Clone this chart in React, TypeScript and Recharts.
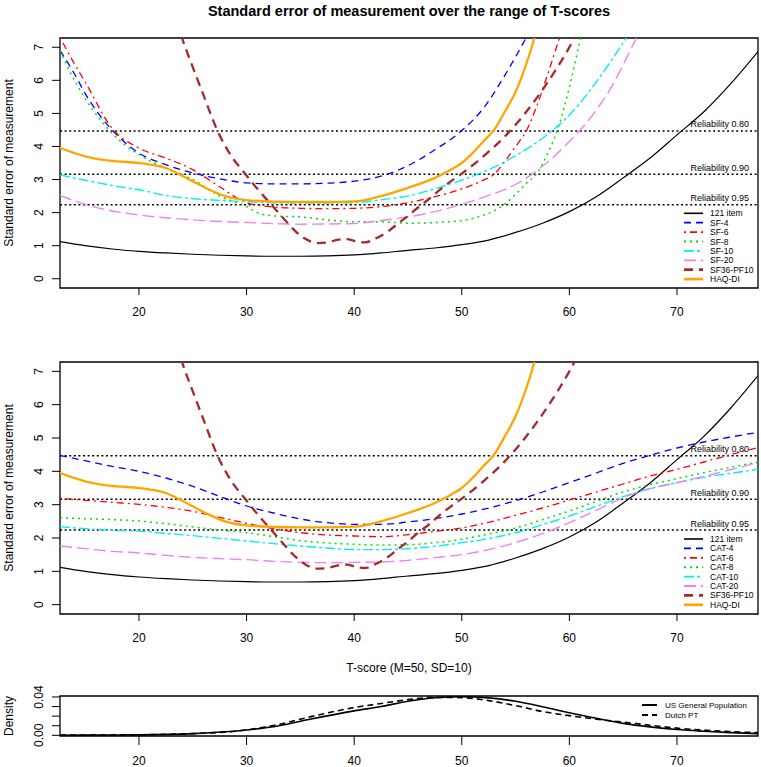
import React from 'react';
import { LineChart, Line, XAxis, YAxis, ReferenceLine, ReferenceArea } from 'recharts';

const FONT = '"Liberation Sans", Arial, Helvetica, sans-serif';

// axes
const tTicks = [20, 30, 40, 50, 60, 70];
const seTicks = [0, 1, 2, 3, 4, 5, 6, 7];
const densityTicks = [0, 0.01, 0.02, 0.03, 0.04];
const densityTickLabels = ['0.00', '', '', '', '0.04'];
const tDomain = [12.66, 77.53];
const seDomain = [-0.28, 7.28];
const densityDomain = [-0.0007, 0.041];

// reliability levels (SE = 10 * sqrt(1 - r))
const reliabilityLabels = ['Reliability 0.80', 'Reliability 0.90', 'Reliability 0.95'];
const reliabilitySE = [4.47, 3.16, 2.24];

// common T-score grid for the full-range curves
const tGrid = [12.66, 15, 17.5, 20, 22.5, 25, 27.5, 30, 32.5, 35, 37.5, 40, 42.5, 45, 47.5, 50, 52.5, 55, 57.5, 60, 62.5, 65, 67.5, 70, 72.5, 75, 77.53];
const item121 = [1.12, 1.0, 0.9, 0.83, 0.78, 0.74, 0.71, 0.69, 0.68, 0.68, 0.69, 0.72, 0.78, 0.86, 0.93, 1.03, 1.17, 1.4, 1.68, 2.03, 2.48, 3.05, 3.65, 4.35, 5.05, 5.9, 6.87];

// short forms (top panel)
const sf4T = [12.66, 14, 15, 16, 17.5, 20, 22.5, 25, 27.5, 30, 32.5, 35, 37.5, 40, 42.5, 45, 47.5, 50, 52, 54, 55.5, 56.5];
const sf4SE = [6.9, 6.2, 5.6, 5.1, 4.5, 3.8, 3.45, 3.2, 3.02, 2.9, 2.87, 2.87, 2.89, 2.95, 3.1, 3.42, 3.9, 4.48, 5.15, 6.15, 7.0, 7.6];
const sf6T = [12.66, 14, 15, 17.5, 20, 22.5, 25, 27.5, 30, 32.5, 35, 37.5, 40, 42.5, 45, 47.5, 50, 52, 53, 54, 55, 56, 57, 58, 59, 60];
const sf6SE = [7.3, 6.5, 5.95, 4.55, 3.95, 3.65, 3.3, 2.78, 2.3, 2.17, 2.13, 2.12, 2.13, 2.18, 2.3, 2.48, 2.72, 2.98, 3.16, 3.55, 4.0, 4.47, 5.25, 6.2, 7.2, 8.2];
const sf8T = [12.66, 14, 15, 17.5, 20, 22.5, 25, 27.5, 30, 31, 32.5, 35, 37.5, 40, 42.5, 45, 47.5, 50, 52, 53, 54, 55, 56, 57, 58, 59, 60, 61, 62];
const sf8SE = [6.9, 6.0, 5.45, 4.4, 3.75, 3.34, 3.0, 2.5, 2.18, 2.0, 1.9, 1.87, 1.78, 1.72, 1.72, 1.68, 1.7, 1.76, 1.92, 2.05, 2.26, 2.55, 2.88, 3.2, 3.8, 4.6, 5.8, 7.2, 8.5];
const sf10T = [12.66, 15, 17.5, 20, 22.5, 25, 27.5, 30, 35, 40, 42.5, 45, 47.5, 50, 52.5, 55, 57.5, 60, 62.5, 64, 65.5, 66.5];
const sf10SE = [3.14, 2.98, 2.82, 2.69, 2.52, 2.42, 2.37, 2.33, 2.29, 2.3, 2.39, 2.5, 2.72, 2.98, 3.3, 3.72, 4.25, 4.95, 5.95, 6.65, 7.4, 8.0];
const sf20T = [12.66, 15, 17.5, 20, 25, 30, 35, 40, 42.5, 45, 47.5, 50, 52.5, 55, 57.5, 60, 62.5, 64, 65.5, 67];
const sf20SE = [2.52, 2.25, 2.05, 1.93, 1.78, 1.7, 1.65, 1.67, 1.76, 1.87, 2.03, 2.25, 2.52, 2.85, 3.4, 4.15, 5.1, 5.85, 6.8, 7.8];

// legacy instruments (both panels)
const pf10T = [23.5, 24, 25, 26, 27.3, 28.5, 29.9, 31, 32.3, 33.5, 34.5, 35.5, 36.5, 37.5, 38.5, 39.3, 40.2, 41, 42, 43, 44, 45, 46, 47, 48, 49, 50, 52, 54, 56, 58, 60, 61];
const pf10SE = [7.8, 7.28, 6.4, 5.55, 4.47, 3.75, 3.16, 2.72, 2.24, 1.8, 1.45, 1.2, 1.08, 1.1, 1.18, 1.2, 1.13, 1.1, 1.22, 1.4, 1.65, 1.9, 2.17, 2.42, 2.7, 2.95, 3.18, 3.7, 4.3, 5.05, 5.95, 7.0, 7.6];
const haqT = [12.66, 14, 15, 16.5, 18, 20, 21.5, 22.5, 23.5, 25, 26.5, 28, 29, 30, 32.5, 35, 37.5, 40, 41, 42.5, 45, 47.5, 49, 50, 51, 52, 53, 54, 55, 56, 56.5, 57];
const haqSE = [3.95, 3.8, 3.7, 3.6, 3.55, 3.5, 3.43, 3.35, 3.2, 2.95, 2.7, 2.5, 2.42, 2.38, 2.33, 2.32, 2.32, 2.34, 2.38, 2.5, 2.75, 3.05, 3.3, 3.5, 3.8, 4.15, 4.5, 5.05, 5.65, 6.5, 7.0, 7.6];

// CATs (middle panel), on tGrid
const cat4 = [4.48, 4.32, 4.15, 4.0, 3.8, 3.55, 3.25, 2.96, 2.75, 2.57, 2.46, 2.41, 2.41, 2.48, 2.58, 2.72, 2.9, 3.12, 3.38, 3.66, 3.95, 4.24, 4.48, 4.7, 4.88, 5.03, 5.17];
const cat6 = [3.19, 3.13, 3.07, 3.01, 2.92, 2.8, 2.62, 2.44, 2.28, 2.16, 2.09, 2.06, 2.04, 2.1, 2.2, 2.3, 2.47, 2.68, 2.9, 3.14, 3.38, 3.62, 3.86, 4.06, 4.28, 4.5, 4.71];
const cat8 = [2.61, 2.58, 2.55, 2.51, 2.43, 2.33, 2.24, 2.16, 2.04, 1.92, 1.85, 1.81, 1.79, 1.8, 1.86, 1.96, 2.12, 2.3, 2.55, 2.81, 3.1, 3.38, 3.6, 3.78, 3.96, 4.12, 4.28];
const cat10 = [2.34, 2.28, 2.23, 2.21, 2.14, 2.07, 1.99, 1.91, 1.83, 1.76, 1.7, 1.65, 1.65, 1.68, 1.75, 1.86, 1.98, 2.16, 2.4, 2.66, 2.95, 3.24, 3.48, 3.66, 3.82, 3.94, 4.06];
const cat20 = [1.76, 1.68, 1.6, 1.55, 1.48, 1.42, 1.38, 1.35, 1.3, 1.27, 1.26, 1.27, 1.28, 1.33, 1.41, 1.5, 1.65, 1.86, 2.13, 2.46, 2.83, 3.21, 3.48, 3.66, 3.85, 4.05, 4.26];

// population densities (bottom panel)
const densT = [12.66, 15, 20, 25, 30, 33, 36, 40, 42.5, 45, 47.5, 50, 52.5, 55, 57.5, 60, 62.5, 65, 67.5, 70, 72.5, 75, 77.53];
const densUS = [0.0001, 0.0002, 0.0005, 0.0018, 0.0055, 0.01, 0.017, 0.0255, 0.03, 0.0355, 0.0392, 0.0402, 0.039, 0.0355, 0.0298, 0.0235, 0.0178, 0.0125, 0.0088, 0.006, 0.0042, 0.0028, 0.0018];
const densDutch = [0.0002, 0.0003, 0.0006, 0.0018, 0.0056, 0.0115, 0.0195, 0.029, 0.0332, 0.0372, 0.0396, 0.0393, 0.0362, 0.031, 0.0248, 0.0205, 0.0168, 0.0138, 0.0105, 0.0075, 0.0055, 0.0038, 0.0028];

type Series = { name: string; color: string; width: number; dash?: string; x: number[]; y: number[] };

const pts = (x: number[], y: number[]) => x.map((v, i) => ({ x: v, y: y[i] }));

const itemSeries: Series = { name: '121 item', color: '#000000', width: 1.2, x: tGrid, y: item121 };
const pf10Series: Series = { name: 'SF36-PF10', color: '#A52A2A', width: 2.3, dash: '9 6', x: pf10T, y: pf10SE };
const haqSeries: Series = { name: 'HAQ-DI', color: '#FFA500', width: 2.3, x: haqT, y: haqSE };

const topSeries: Series[] = [
  itemSeries,
  { name: 'SF-4', color: '#0000FF', width: 1.3, dash: '7 5', x: sf4T, y: sf4SE },
  { name: 'SF-6', color: '#FF0000', width: 1.3, dash: '2 4 7 4', x: sf6T, y: sf6SE },
  { name: 'SF-8', color: '#00E000', width: 1.5, dash: '2 4', x: sf8T, y: sf8SE },
  { name: 'SF-10', color: '#00F0F0', width: 1.4, dash: '10 3 3 3', x: sf10T, y: sf10SE },
  { name: 'SF-20', color: '#EE82EE', width: 1.4, dash: '12 5', x: sf20T, y: sf20SE },
  pf10Series,
  haqSeries,
];

const midSeries: Series[] = [
  itemSeries,
  { name: 'CAT-4', color: '#0000FF', width: 1.3, dash: '7 5', x: tGrid, y: cat4 },
  { name: 'CAT-6', color: '#FF0000', width: 1.3, dash: '2 4 7 4', x: tGrid, y: cat6 },
  { name: 'CAT-8', color: '#00E000', width: 1.5, dash: '2 4', x: tGrid, y: cat8 },
  { name: 'CAT-10', color: '#00F0F0', width: 1.4, dash: '10 3 3 3', x: tGrid, y: cat10 },
  { name: 'CAT-20', color: '#EE82EE', width: 1.4, dash: '12 5', x: tGrid, y: cat20 },
  pf10Series,
  haqSeries,
];

const densSeries: Series[] = [
  { name: 'US General Population', color: '#000000', width: 1.6, x: densT, y: densUS },
  { name: 'Dutch PT', color: '#000000', width: 1.6, dash: '6 4', x: densT, y: densDutch },
];

function RotTick(props: any) {
  const { x, y, payload, labels, ticks } = props;
  const text = labels ? labels[ticks.indexOf(payload.value)] : String(payload.value);
  return (
    <text x={x} y={y} transform={`rotate(-90 ${x} ${y})`} textAnchor="middle" fontSize={12} fill="#000" fontFamily={FONT}>
      {text}
    </text>
  );
}

function relLabel(text: string) {
  return (props: any) => {
    const vb = props.viewBox || {};
    return (
      <text x={vb.x + vb.width - 9} y={vb.y - 3.5} textAnchor="end" fontSize={9} fill="#000" fontFamily={FONT}>
        {text}
      </text>
    );
  };
}

function SEPanel({ top, height, marginBottom, series }: { top: number; height: number; marginBottom: number; series: Series[] }) {
  return (
    <div style={{ position: 'absolute', left: 0, top }}>
      <LineChart width={761} height={height} margin={{ top: 38, right: 3, bottom: marginBottom, left: 0 }}>
        <XAxis
          type="number"
          dataKey="x"
          domain={tDomain}
          ticks={tTicks}
          interval={0}
          allowDataOverflow
          axisLine={false}
          tickSize={7}
          tickMargin={12}
          height={30}
          stroke="#000"
          tick={{ fontSize: 12, fill: '#000', fontFamily: FONT }}
        />
        <YAxis
          type="number"
          domain={seDomain}
          ticks={seTicks}
          interval={0}
          allowDataOverflow
          axisLine={false}
          tickSize={8}
          tickMargin={9}
          width={60}
          stroke="#000"
          tick={(p: any) => <RotTick {...p} />}
        />
        {reliabilitySE.map((v, i) => (
          <ReferenceLine key={v} y={v} stroke="#000" strokeWidth={1.5} strokeDasharray="2 2.6" label={relLabel(reliabilityLabels[i])} />
        ))}
        {series.map((s) => (
          <Line
            key={s.name}
            data={pts(s.x, s.y)}
            dataKey="y"
            type="monotone"
            stroke={s.color}
            strokeWidth={s.width}
            strokeDasharray={s.dash}
            dot={false}
            activeDot={false}
            isAnimationActive={false}
          />
        ))}
        <ReferenceArea x1={tDomain[0]} x2={tDomain[1]} y1={seDomain[0]} y2={seDomain[1]} fill="none" fillOpacity={0} stroke="#000" strokeWidth={1.3} />
      </LineChart>
    </div>
  );
}

function DensityPanel() {
  return (
    <div style={{ position: 'absolute', left: 0, top: 680 }}>
      <LineChart width={761} height={87} margin={{ top: 16, right: 3, bottom: 1, left: 0 }}>
        <XAxis
          type="number"
          dataKey="x"
          domain={tDomain}
          ticks={tTicks}
          interval={0}
          allowDataOverflow
          axisLine={false}
          tickSize={9}
          tickMargin={11}
          height={30}
          stroke="#000"
          tick={{ fontSize: 12, fill: '#000', fontFamily: FONT }}
        />
        <YAxis
          type="number"
          domain={densityDomain}
          ticks={densityTicks}
          interval={0}
          allowDataOverflow
          axisLine={false}
          tickSize={8}
          tickMargin={9}
          width={60}
          stroke="#000"
          tick={(p: any) => <RotTick {...p} labels={densityTickLabels} ticks={densityTicks} />}
        />
        {densSeries.map((s) => (
          <Line
            key={s.name}
            data={pts(s.x, s.y)}
            dataKey="y"
            type="monotone"
            stroke={s.color}
            strokeWidth={s.width}
            strokeDasharray={s.dash}
            dot={false}
            activeDot={false}
            isAnimationActive={false}
          />
        ))}
        <ReferenceArea x1={tDomain[0]} x2={tDomain[1]} y1={densityDomain[0]} y2={densityDomain[1]} fill="none" fillOpacity={0} stroke="#000" strokeWidth={1.3} />
      </LineChart>
    </div>
  );
}

function LegendBlock({ series, y0, step, x1, x2, tx, fontSize }: { series: Series[]; y0: number; step: number; x1: number; x2: number; tx: number; fontSize: number }) {
  return (
    <g>
      {series.map((s, i) => {
        const y = y0 + i * step;
        return (
          <g key={s.name}>
            <line x1={x1} x2={x2} y1={y} y2={y} stroke={s.color} strokeWidth={s.width + 0.4} strokeDasharray={s.dash ? s.dash : undefined} />
            <text x={tx} y={y + fontSize * 0.36} fontSize={fontSize} fill="#000" fontFamily={FONT}>
              {s.name}
            </text>
          </g>
        );
      })}
    </g>
  );
}

export default function App() {
  return (
    <div style={{ position: 'absolute', left: 0, top: 0, width: 761, height: 767, background: '#fff', fontFamily: FONT }}>
      <SEPanel top={0} height={320} marginBottom={2} series={topSeries} />
      <SEPanel top={324} height={320} marginBottom={0} series={midSeries} />
      <DensityPanel />
      <svg width={761} height={767} style={{ position: 'absolute', left: 0, top: 0, pointerEvents: 'none' }}>
        <text x={409} y={16} textAnchor="middle" fontSize={14.5} fontWeight="bold" fill="#000" fontFamily={FONT}>
          Standard error of measurement over the range of T-scores
        </text>
        <text x={13} y={163} transform="rotate(-90 13 163)" textAnchor="middle" fontSize={12} fill="#000" fontFamily={FONT}>
          Standard error of measurement
        </text>
        <text x={13} y={488} transform="rotate(-90 13 488)" textAnchor="middle" fontSize={12} fill="#000" fontFamily={FONT}>
          Standard error of measurement
        </text>
        <text x={13} y={716} transform="rotate(-90 13 716)" textAnchor="middle" fontSize={12} fill="#000" fontFamily={FONT}>
          Density
        </text>
        <text x={409} y={671.5} textAnchor="middle" fontSize={12} fill="#000" fontFamily={FONT}>
          T-score (M=50, SD=10)
        </text>
        <LegendBlock series={topSeries} y0={213.3} step={9.4} x1={684} x2={703} tx={710} fontSize={8.5} />
        <LegendBlock series={midSeries} y0={539} step={9.4} x1={684} x2={703} tx={710} fontSize={8.5} />
        <LegendBlock series={densSeries} y0={705} step={10} x1={642} x2={657} tx={665} fontSize={8} />
      </svg>
    </div>
  );
}
